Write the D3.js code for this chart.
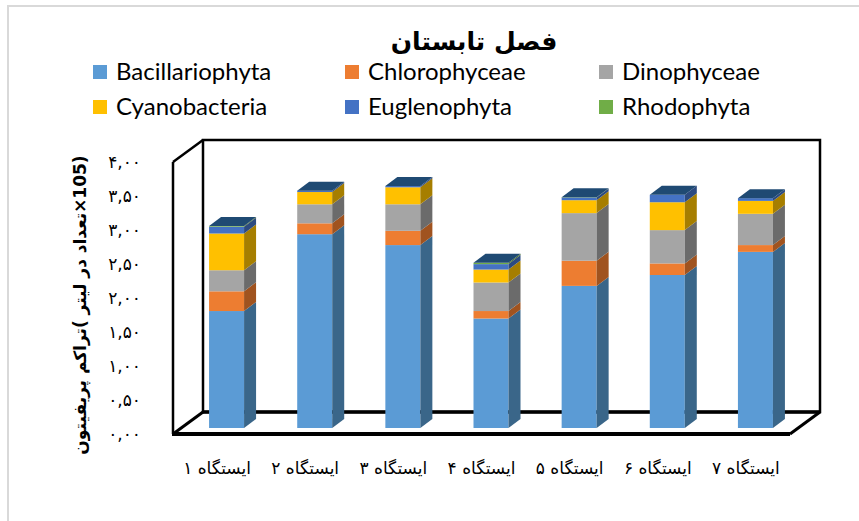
<!DOCTYPE html>
<html>
<head>
<meta charset="utf-8">
<script src="https://cdn.jsdelivr.net/npm/d3@7/dist/d3.min.js"></script>
<style>
  html, body { margin: 0; padding: 0; background: #ffffff; }
  svg { display: block; }
</style>
</head>
<body>
<svg id="chart" width="859" height="521"></svg>
<script>
// ---- data ----
const stations = ["ایستگاه ۱", "ایستگاه ۲", "ایستگاه ۳", "ایستگاه ۴", "ایستگاه ۵", "ایستگاه ۶", "ایستگاه ۷"];
const seriesNames = ["Bacillariophyta", "Chlorophyceae", "Dinophyceae", "Cyanobacteria", "Euglenophyta", "Rhodophyta"];
const bacillariophyta = [1.72, 2.85, 2.69, 1.61, 2.09, 2.25, 2.59];
const chlorophyceae   = [0.29, 0.16, 0.21, 0.11, 0.37, 0.17, 0.10];
const dinophyceae     = [0.31, 0.28, 0.39, 0.42, 0.70, 0.49, 0.46];
const cyanobacteria   = [0.54, 0.18, 0.25, 0.19, 0.19, 0.41, 0.19];
const euglenophyta    = [0.10, 0.02, 0.02, 0.08, 0.04, 0.11, 0.04];
const rhodophyta      = [0.01, 0.00, 0.00, 0.02, 0.005, 0.00, 0.00];
const yTicks = [0, 0.5, 1, 1.5, 2, 2.5, 3, 3.5, 4];
const titleText = "فصل تابستان";
const yTitleText = "(105×تعداد در لیتر )تراکم پریفیتون";

const frontColors = ["#5B9BD5", "#ED7D31", "#A5A5A5", "#FFC000", "#4472C4", "#70AD47"];
const sideColors  = ["#3A6689", "#A0531F", "#6B6B6B", "#A67E00", "#2C4A80", "#49712E"];
const capColor = "#1F4A73";

const seriesValues = [bacillariophyta, chlorophyceae, dinophyceae, cyanobacteria, euglenophyta, rhodophyta];
const table = stations.map((s, i) => {
  const row = { station: s };
  seriesNames.forEach((n, k) => row[n] = seriesValues[k][i]);
  return row;
});

// ---- layout ----
const svg = d3.select("#chart");
const floorY = 434, leftX = 173, rightX = 790;
const depthX = 30, depthY = -22;      // full depth of the floor
const barDX = 9.5, barDY = -6;        // bar front face position in depth
const barW = 35, barDepthX = 12, barDepthY = -9;

const x = d3.scaleBand().domain(stations).range([leftX, rightX]).padding(0);
const y = d3.scaleLinear().domain([0, 4]).range([floorY, 162]);

const persian = s => s.replace(/[0-9]/g, d => "۰۱۲۳۴۵۶۷۸۹"[+d]).replace(".", ",");

// outer frame
svg.append("rect").attr("x", 8).attr("y", 6).attr("width", 900).attr("height", 600)
  .attr("fill", "none").attr("stroke", "#d9d9d9").attr("stroke-width", 2);

// walls & floor
const walls = svg.append("g").attr("fill", "none").attr("stroke", "#000");
walls.append("rect")
  .attr("x", leftX + depthX).attr("y", y(4) + depthY)
  .attr("width", rightX - leftX).attr("height", y(0) - y(4))
  .attr("stroke-width", 2.5);
walls.append("line").attr("x1", leftX + depthX).attr("y1", floorY + depthY)
  .attr("x2", rightX + depthX).attr("y2", floorY + depthY).attr("stroke-width", 3.5);
walls.append("line").attr("x1", leftX).attr("y1", y(4)).attr("x2", leftX + depthX).attr("y2", y(4) + depthY).attr("stroke-width", 2.5);
walls.append("line").attr("x1", leftX).attr("y1", y(4)).attr("x2", leftX).attr("y2", floorY).attr("stroke-width", 2.5);
walls.append("line").attr("x1", leftX).attr("y1", floorY).attr("x2", leftX + depthX).attr("y2", floorY + depthY).attr("stroke-width", 3);
walls.append("line").attr("x1", rightX).attr("y1", floorY).attr("x2", rightX + depthX).attr("y2", floorY + depthY).attr("stroke-width", 3);
walls.append("line").attr("x1", leftX - 1).attr("y1", floorY).attr("x2", rightX).attr("y2", floorY).attr("stroke-width", 4);

// bars
const stack = d3.stack().keys(seriesNames)(table);
const bars = svg.append("g");
stations.forEach((s, i) => {
  const x0 = x(s) + x.bandwidth() / 2 + barDX - barW / 2;
  let topY = null;
  stack.forEach((layer, k) => {
    const [v0, v1] = layer[i];
    if (v1 - v0 <= 0) return;
    const yb = y(v0) + barDY, yt = y(v1) + barDY;
    bars.append("rect").attr("x", x0).attr("y", yt).attr("width", barW).attr("height", yb - yt)
      .attr("fill", frontColors[k]);
    bars.append("polygon")
      .attr("points", [[x0 + barW, yt], [x0 + barW + barDepthX, yt + barDepthY], [x0 + barW + barDepthX, yb + barDepthY], [x0 + barW, yb]].join(" "))
      .attr("fill", sideColors[k]);
    topY = yt;
  });
  bars.append("polygon")
    .attr("points", [[x0, topY], [x0 + barDepthX, topY + barDepthY], [x0 + barW + barDepthX, topY + barDepthY], [x0 + barW, topY]].join(" "))
    .attr("fill", capColor);
});

// y axis labels
const yAxis = d3.axisLeft(y).tickValues(yTicks).tickSize(0).tickPadding(0)
  .tickFormat(d => persian(d3.format(".2f")(d)));
const gy = svg.append("g").attr("transform", "translate(141,0)").call(yAxis);
gy.select(".domain").remove();
gy.selectAll("text").attr("font-family", "DejaVu Sans").attr("font-size", 17).attr("fill", "#000")
  .attr("dy", "0.35em");

// x labels
svg.append("g").selectAll("text").data(stations).join("text")
  .attr("x", d => x(d) + x.bandwidth() / 2).attr("y", 474)
  .attr("text-anchor", "middle").attr("direction", "rtl")
  .attr("font-family", "DejaVu Sans").attr("font-size", 17).attr("fill", "#000")
  .text(d => d);

// title
svg.append("text").attr("x", 474).attr("y", 50).attr("text-anchor", "middle")
  .attr("direction", "rtl").attr("font-family", "DejaVu Sans").attr("font-weight", "bold")
  .attr("font-size", 25).attr("fill", "#000").text(titleText);

// y title
svg.append("text").attr("transform", "translate(86,305) rotate(-90)")
  .attr("text-anchor", "middle").attr("direction", "rtl")
  .attr("font-family", "DejaVu Sans").attr("font-weight", "bold").attr("font-size", 17)
  .attr("fill", "#000").text(yTitleText);

// legend
const legX = [93, 345, 599], legY = [65, 100];
const leg = svg.append("g").selectAll("g").data(seriesNames).join("g")
  .attr("transform", (d, i) => `translate(${legX[i % 3]},${legY[Math.floor(i / 3)]})`);
leg.append("rect").attr("width", 14).attr("height", 14).attr("fill", (d, i) => frontColors[i]);
leg.append("text").attr("x", 23).attr("y", 15).attr("font-family", "Lato").attr("font-size", 24)
  .attr("fill", "#000").text(d => d);
</script>
</body>
</html>
